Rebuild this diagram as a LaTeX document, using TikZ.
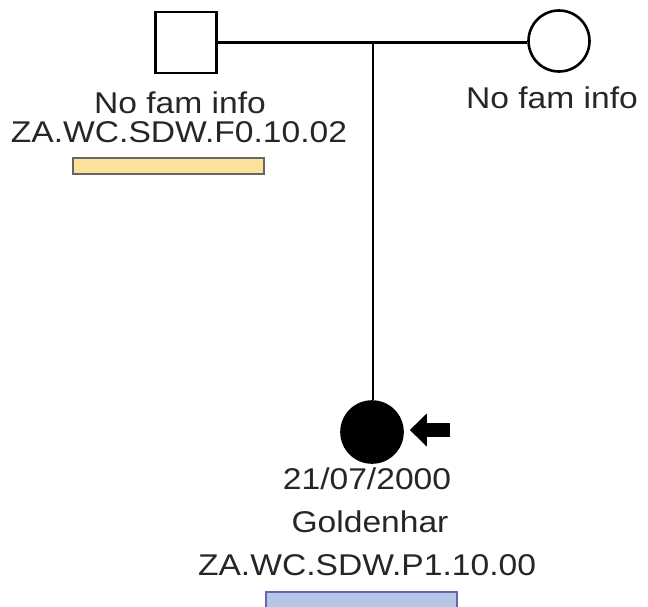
\documentclass[tikz,border=0pt]{standalone}
\usepackage{xcolor}
\usepackage{fontspec}
\setmainfont[FakeStretch=1.12]{Liberation Sans}
\usepackage{tikz}
\usetikzlibrary{arrows.meta}

\definecolor{barYellow}{HTML}{FBE29A}
\definecolor{barBlue}{HTML}{B4C7E7}

\begin{document}
\begin{tikzpicture}[x=1pt, y=-1pt,
    person/.style={draw, line width=2.6pt, minimum size=61pt, inner sep=0pt},
    label/.style={anchor=base, inner sep=0pt, text=black!85, font=\fontsize{30}{30}\selectfont},
    bar/.style={draw, line width=1.6pt, minimum width=191pt, minimum height=16pt, inner sep=0pt}]
    \useasboundingbox (0,0) rectangle (648,606);
    \node[person, rectangle] (father) at (186,42.5) {};
    \node[person, circle] (mother) at (559,41) {};
    \node[person, circle, fill=black] (proband) at (372,432) {};
    \coordinate (sibship) at (373,43);
    \coordinate (pointer) at (450,430);
    \draw[line width=2.6pt] (father.east) -- (mother.west |- father.east);
    \draw[line width=2.6pt] (sibship) -- (sibship |- proband.north);
    \draw[line width=14pt, -{Triangle[length=17pt, width=32pt]}] (pointer) -- ([xshift=6pt]proband.east |- pointer);
    \node[label] (fatherinfo) at (180,113) {No fam info};
    \node[label] (fatherid) at (179,142) {ZA.WC.SDW.F0.10.02};
    \node[label] (motherinfo) at (552,108) {No fam info};
    \node[label] (dob) at (367,489) {21/07/2000};
    \node[label] (diagnosis) at (370,532) {Goldenhar};
    \node[label] (probandid) at (367,575) {ZA.WC.SDW.P1.10.00};
    \node[bar, draw=black!60, fill=barYellow] (fatherbar) at (168.5,166) {};
    \node[bar, draw=black!55!blue!60, fill=barBlue] (probandbar) at (361.5,600) {};
\end{tikzpicture}
\end{document}
